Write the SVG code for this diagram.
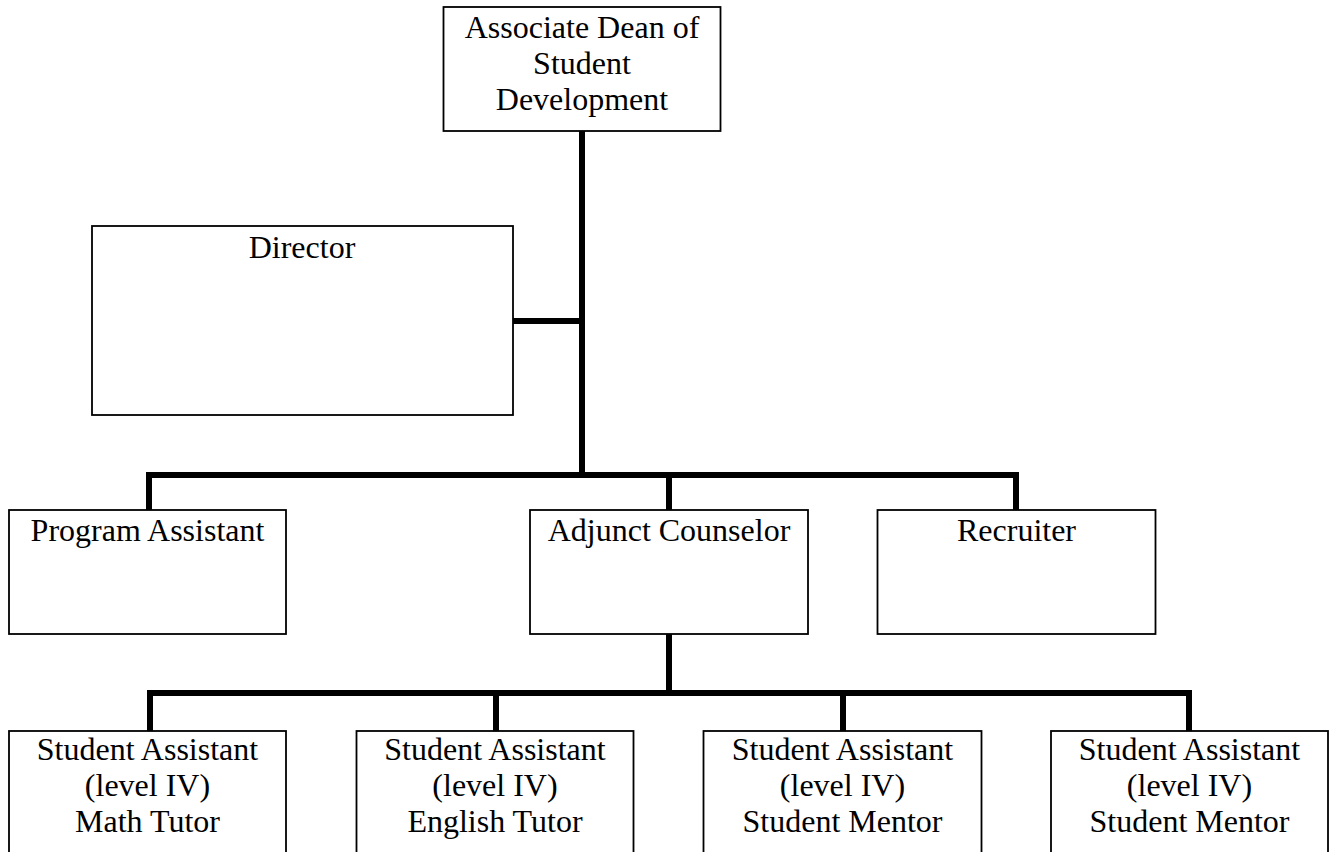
<svg xmlns="http://www.w3.org/2000/svg" width="1337" height="852" viewBox="0 0 1337 852">
<style>
.box{fill:#fff;stroke:#000;stroke-width:1.8}
.t{font-family:"Liberation Serif","Times New Roman",serif;font-size:32px;fill:#000;text-anchor:middle}
.c{fill:none;stroke:#000;stroke-width:6;stroke-linejoin:miter}
</style>
<rect width="1337" height="852" fill="#fff"/>
<g id="connectors">
<path class="c" d="M582,131 V475"/>
<path class="c" d="M513,321 H582"/>
<path class="c" d="M149,510 V475 H1016 V510"/>
<path class="c" d="M669,475 V510"/>
<path class="c" d="M669,634 V693"/>
<path class="c" d="M150,731 V693 H1189 V731"/>
<path class="c" d="M496,693 V731"/>
<path class="c" d="M843,693 V731"/>
</g>
<g id="dean">
<rect class="box" x="443.5" y="7" width="277" height="124"/>
<text class="t" x="582" y="38">Associate Dean of</text>
<text class="t" x="582" y="74">Student</text>
<text class="t" x="582" y="110">Development</text>
</g>
<g id="director">
<rect class="box" x="92" y="226" width="421" height="189"/>
<text class="t" x="302" y="258">Director</text>
</g>
<g id="program-assistant">
<rect class="box" x="9" y="510" width="277" height="124"/>
<text class="t" x="147.5" y="541">Program Assistant</text>
</g>
<g id="adjunct-counselor">
<rect class="box" x="530" y="510" width="278" height="124"/>
<text class="t" x="669" y="541">Adjunct Counselor</text>
</g>
<g id="recruiter">
<rect class="box" x="877.5" y="510" width="278" height="124"/>
<text class="t" x="1016.5" y="541">Recruiter</text>
</g>
<g id="sa-math">
<rect class="box" x="9" y="731" width="277" height="140"/>
<text class="t" x="147.5" y="760">Student Assistant</text>
<text class="t" x="147.5" y="796">(level IV)</text>
<text class="t" x="147.5" y="832">Math Tutor</text>
</g>
<g id="sa-english">
<rect class="box" x="356.5" y="731" width="277" height="140"/>
<text class="t" x="495" y="760">Student Assistant</text>
<text class="t" x="495" y="796">(level IV)</text>
<text class="t" x="495" y="832">English Tutor</text>
</g>
<g id="sa-mentor-1">
<rect class="box" x="703.5" y="731" width="278" height="140"/>
<text class="t" x="842.5" y="760">Student Assistant</text>
<text class="t" x="842.5" y="796">(level IV)</text>
<text class="t" x="842.5" y="832">Student Mentor</text>
</g>
<g id="sa-mentor-2">
<rect class="box" x="1051" y="731" width="277" height="140"/>
<text class="t" x="1189.5" y="760">Student Assistant</text>
<text class="t" x="1189.5" y="796">(level IV)</text>
<text class="t" x="1189.5" y="832">Student Mentor</text>
</g>
</svg>
